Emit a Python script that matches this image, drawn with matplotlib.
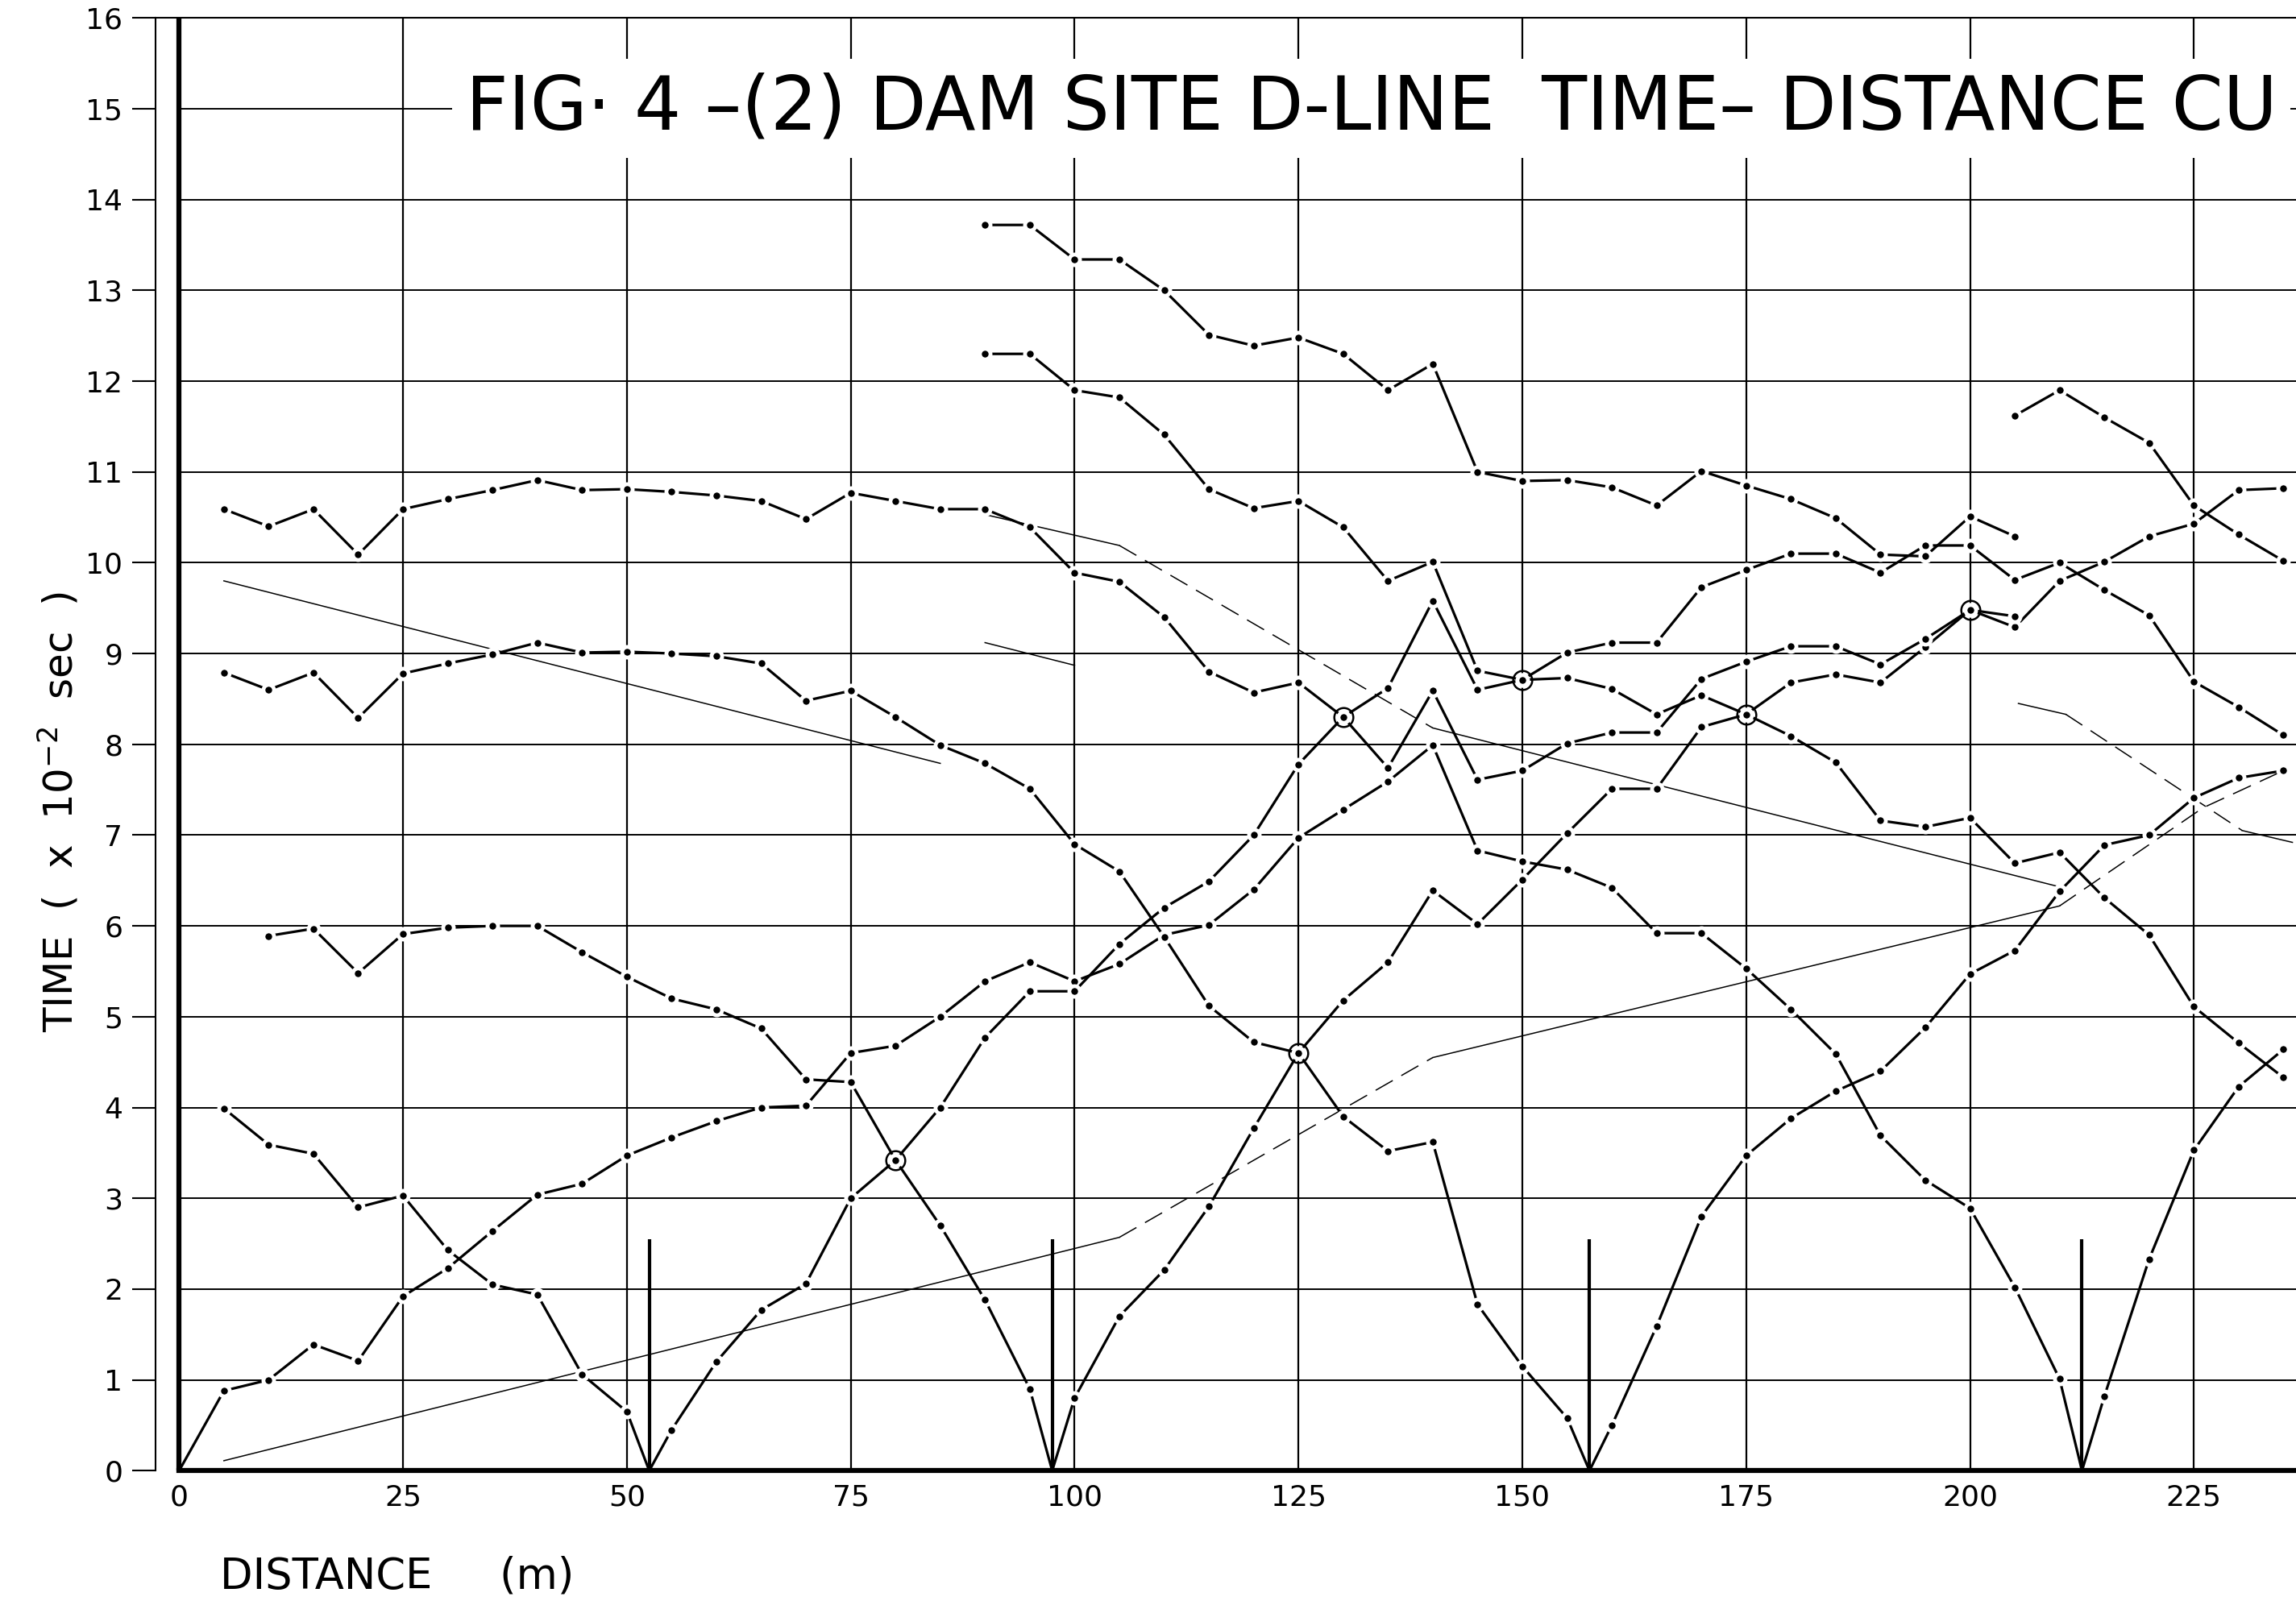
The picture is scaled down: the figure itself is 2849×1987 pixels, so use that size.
import matplotlib.pyplot as plt

plt.rcParams['font.family'] = ['DejaVu Sans']

# axis ticks
dist_ticks = [0, 25, 50, 75, 100, 125, 150, 175, 200, 225]
time_ticks = list(range(0, 17))

# shot points and the height of their marker lines
shot_x = [52.5, 97.5, 157.5, 212.5]
shot_h = 2.55

# forward branches (time in 10^-2 sec)
fwd_0_x = [0, 5, 10, 15, 20, 25, 30, 35, 40, 45, 50, 55, 60, 65, 70, 75, 80, 85, 90, 95,
           100, 105, 110, 115, 120, 125, 130, 135, 140, 145, 150, 155, 160, 165, 170, 175,
           180, 185, 190, 195, 200, 205, 210, 212.5]
fwd_0_t = [0, 0.88, 1.0, 1.39, 1.21, 1.92, 2.23, 2.64, 3.04, 3.16,
           3.47, 3.67, 3.85, 4.0, 4.02, 4.6, 4.68, 5.0, 5.39, 5.6,
           5.39, 5.58, 5.90, 6.01, 6.40, 6.97, 7.28, 7.59, 7.99, 6.83,
           6.71, 6.62, 6.42, 5.92, 5.92, 5.53, 5.08, 4.59, 3.69, 3.20,
           2.89, 2.02, 1.01, 0]

fwd_52_x = [52.5, 55, 60, 65, 70, 75, 80, 85, 90, 95, 100, 105, 110, 115, 120, 125, 130,
            135, 140, 145, 150, 155, 160, 165, 170, 175, 180, 185, 190, 195, 200, 205,
            210, 215, 220, 225, 230, 235]
fwd_52_t = [0, 0.45, 1.2, 1.77, 2.06, 3.0, 3.42, 4.0, 4.77, 5.28,
            5.28, 5.80, 6.20, 6.49, 7.0, 7.78, 8.30, 8.62, 9.58, 8.60,
            8.71, 9.01, 9.12, 9.12, 9.73, 9.92, 10.10, 10.10, 9.89, 10.19,
            10.19, 9.81, 10.0, 9.70, 9.42, 8.69, 8.41, 8.10]

fwd_97_x = [97.5, 100, 105, 110, 115, 120, 125, 130, 135, 140, 145, 150, 155, 160, 165,
            170, 175, 180, 185, 190, 195, 200, 205, 210, 215, 220, 225, 230, 235]
fwd_97_t = [0, 0.80, 1.70, 2.21, 2.91, 3.77, 4.60, 5.18, 5.60, 6.39,
            6.02, 6.51, 7.02, 7.51, 7.51, 8.19, 8.33, 8.68, 8.77, 8.68,
            9.07, 9.48, 9.29, 9.80, 10.01, 10.29, 10.43, 10.80, 10.82]

fwd_157_x = [157.5, 160, 165, 170, 175, 180, 185, 190, 195, 200, 205, 210, 215, 220,
             225, 230, 235]
fwd_157_t = [0, 0.50, 1.59, 2.80, 3.47, 3.88, 4.18, 4.40, 4.88, 5.47, 5.73, 6.38, 6.89,
             7.00, 7.41, 7.63, 7.71]

fwd_212_x = [212.5, 215, 220, 225, 230, 235]
fwd_212_t = [0, 0.82, 2.33, 3.53, 4.23, 4.64]

# reverse branches
rev_52_x = [5, 10, 15, 20, 25, 30, 35, 40, 45, 50, 52.5]
rev_52_t = [3.99, 3.59, 3.49, 2.90, 3.03, 2.43, 2.05, 1.94, 1.06, 0.65, 0]

rev_97_x = [10, 15, 20, 25, 30, 35, 40, 45, 50, 55, 60, 65, 70, 75, 80, 85, 90, 95, 97.5]
rev_97_t = [5.89, 5.97, 5.48, 5.91, 5.98, 6.0, 6.0, 5.71, 5.44, 5.2,
            5.08, 4.87, 4.31, 4.28, 3.42, 2.70, 1.88, 0.90, 0]

rev_157_x = [5, 10, 15, 20, 25, 30, 35, 40, 45, 50, 55, 60, 65, 70, 75, 80, 85, 90, 95,
             100, 105, 110, 115, 120, 125, 130, 135, 140, 145, 150, 155, 157.5]
rev_157_t = [8.79, 8.60, 8.79, 8.29, 8.78, 8.89, 8.99, 9.12, 9.01, 9.02,
             9.0, 8.97, 8.89, 8.48, 8.59, 8.30, 7.99, 7.79, 7.51, 6.90,
             6.60, 5.88, 5.12, 4.72, 4.60, 3.90, 3.52, 3.62, 1.83, 1.15,
             0.58, 0]

rev_212_x = [5, 10, 15, 20, 25, 30, 35, 40, 45, 50, 55, 60, 65, 70, 75, 80, 85, 90, 95,
             100, 105, 110, 115, 120, 125, 130, 135, 140, 145, 150, 155, 160, 165, 170,
             175, 180, 185, 190, 195, 200, 205]
rev_212_t = [10.59, 10.40, 10.59, 10.09, 10.59, 10.70, 10.80, 10.91, 10.80, 10.81,
             10.78, 10.74, 10.68, 10.48, 10.77, 10.68, 10.59, 10.59, 10.39, 9.89,
             9.79, 9.40, 8.80, 8.57, 8.68, 8.30, 7.74, 8.59, 7.61, 7.71,
             8.01, 8.13, 8.13, 8.72, 8.91, 9.08, 9.08, 8.88, 9.16, 9.48, 9.41]

# branches from the far shots (upper curves)
far_a_x = [90, 95, 100, 105, 110, 115, 120, 125, 130, 135, 140, 145, 150, 155, 160, 165,
           170, 175, 180, 185, 190, 195, 200, 205]
far_a_t = [13.72, 13.72, 13.34, 13.34, 13.0, 12.51, 12.39, 12.48, 12.30, 11.90,
           12.19, 11.0, 10.90, 10.91, 10.83, 10.63, 11.01, 10.85, 10.70, 10.49,
           10.09, 10.07, 10.51, 10.29]

far_b_x = [90, 95, 100, 105, 110, 115, 120, 125, 130, 135, 140, 145, 150, 155, 160, 165,
           170, 175, 180, 185, 190, 195, 200, 205, 210, 215, 220, 225, 230, 235]
far_b_t = [12.30, 12.30, 11.90, 11.82, 11.41, 10.81, 10.60, 10.68, 10.39, 9.80,
           10.01, 8.81, 8.71, 8.73, 8.61, 8.33, 8.54, 8.33, 8.09, 7.80,
           7.16, 7.09, 7.19, 6.69, 6.81, 6.31, 5.90, 5.11, 4.71, 4.33]

far_c_x = [205, 210, 215, 220, 225, 230, 235]
far_c_t = [11.62, 11.90, 11.60, 11.32, 10.63, 10.31, 10.02]

# reciprocal (crossing) points, circled on the sheet
circ_x = [80, 125, 130, 150, 175, 200]
circ_t = [3.42, 4.60, 8.30, 8.71, 8.33, 9.48]

# thin velocity lines (solid parts and dashed parts)
vel1_x, vel1_t = [5, 85], [9.80, 7.79]
vel2_x, vel2_t = [90, 100], [9.12, 8.87]
vel3_x, vel3_t = [90, 105], [10.53, 10.19]
vel3d_x, vel3d_t = [105, 140], [10.19, 8.18]
vel3e_x, vel3e_t = [140, 210], [8.18, 6.43]
vel4_x, vel4_t = [5, 105], [0.11, 2.57]
vel4d_x, vel4d_t = [105, 140], [2.57, 4.55]
vel4e_x, vel4e_t = [140, 210], [4.55, 6.22]
vel4f_x, vel4f_t = [210, 226, 235], [6.22, 7.30, 7.71]
vel5_x, vel5_t = [205.4, 210.7], [8.45, 8.33]
vel5d_x, vel5d_t = [210.7, 230.4], [8.33, 7.05]
vel5e_x, vel5e_t = [230.4, 236], [7.05, 6.92]

x_max = 236.4

fig = plt.figure(figsize=(28.49, 19.87), dpi=100)
ax = fig.add_axes([0.0676, 0.0814, 0.9324, 0.9074])
ax.set_xlim(-2.67, x_max)
ax.set_ylim(0, 16)

# paper grid
ax.hlines(time_ticks[1:], 0, x_max, colors='k', lw=1.4, zorder=1)
ax.vlines(dist_ticks[1:], 0, 16, colors='k', lw=1.6, zorder=1)
ax.axvline(0, color='k', lw=4.5, zorder=2)

ax.spines['right'].set_visible(False)
ax.spines['bottom'].set_bounds(0, x_max)
ax.spines['bottom'].set_linewidth(4.5)
ax.spines['left'].set_linewidth(1.5)
ax.spines['top'].set_linewidth(1.5)

ax.set_xticks(dist_ticks)
ax.set_xticklabels([str(d) for d in dist_ticks])
ax.set_yticks(time_ticks)
ax.set_yticklabels([str(t) for t in time_ticks])
ax.tick_params(axis='x', length=0, pad=12, labelsize=26)
ax.tick_params(axis='y', direction='out', length=21, width=1.5, pad=8, labelsize=26)

# thin velocity lines
thin = dict(color='k', lw=1.1, zorder=2)
dash = dict(color='k', lw=1.1, zorder=2, dashes=(16, 8))
for xs, ts in [(vel1_x, vel1_t), (vel2_x, vel2_t), (vel3_x, vel3_t), (vel3e_x, vel3e_t),
               (vel4_x, vel4_t), (vel4e_x, vel4e_t), (vel5_x, vel5_t), (vel5e_x, vel5e_t)]:
    ax.plot(xs, ts, **thin)
for xs, ts in [(vel3d_x, vel3d_t), (vel4d_x, vel4d_t), (vel4f_x, vel4f_t), (vel5d_x, vel5d_t)]:
    ax.plot(xs, ts, **dash)


def trace(xs, ts):
    dots = [i for i, v in enumerate(ts) if v > 0]
    ax.plot(xs, ts, color='k', lw=2.3, marker='o', ms=9.5, mfc='k', mec='white',
            mew=3.4, markevery=dots, zorder=3, solid_capstyle='butt')


for xs, ts in [(fwd_0_x, fwd_0_t), (fwd_52_x, fwd_52_t), (fwd_97_x, fwd_97_t),
               (fwd_157_x, fwd_157_t), (fwd_212_x, fwd_212_t),
               (rev_52_x, rev_52_t), (rev_97_x, rev_97_t), (rev_157_x, rev_157_t),
               (rev_212_x, rev_212_t), (far_a_x, far_a_t), (far_b_x, far_b_t),
               (far_c_x, far_c_t)]:
    trace(xs, ts)

ax.plot(circ_x, circ_t, ls='none', marker='o', ms=17, mfc='none', mec='k', mew=1.8, zorder=5)
ax.vlines(shot_x, 0, shot_h, colors='k', lw=3.0, zorder=4)

# the sheet is cut at the right edge, so only "...CU" of the title shows
ax.text(32, 15, 'FIG· 4 –(2) DAM SITE D-LINE  TIME– DISTANCE CU', fontsize=66,
        ha='left', va='center', zorder=6,
        bbox=dict(facecolor='white', edgecolor='none', pad=12))

fig.text(0.0255, 0.493, 'TIME  (  x  10$^{-2}$  sec  )', rotation=90, fontsize=36,
         ha='center', va='center')
fig.text(0.0957, 0.0155, 'DISTANCE     (m)', fontsize=38, ha='left', va='center')

fig.savefig('out.png', dpi=100)
